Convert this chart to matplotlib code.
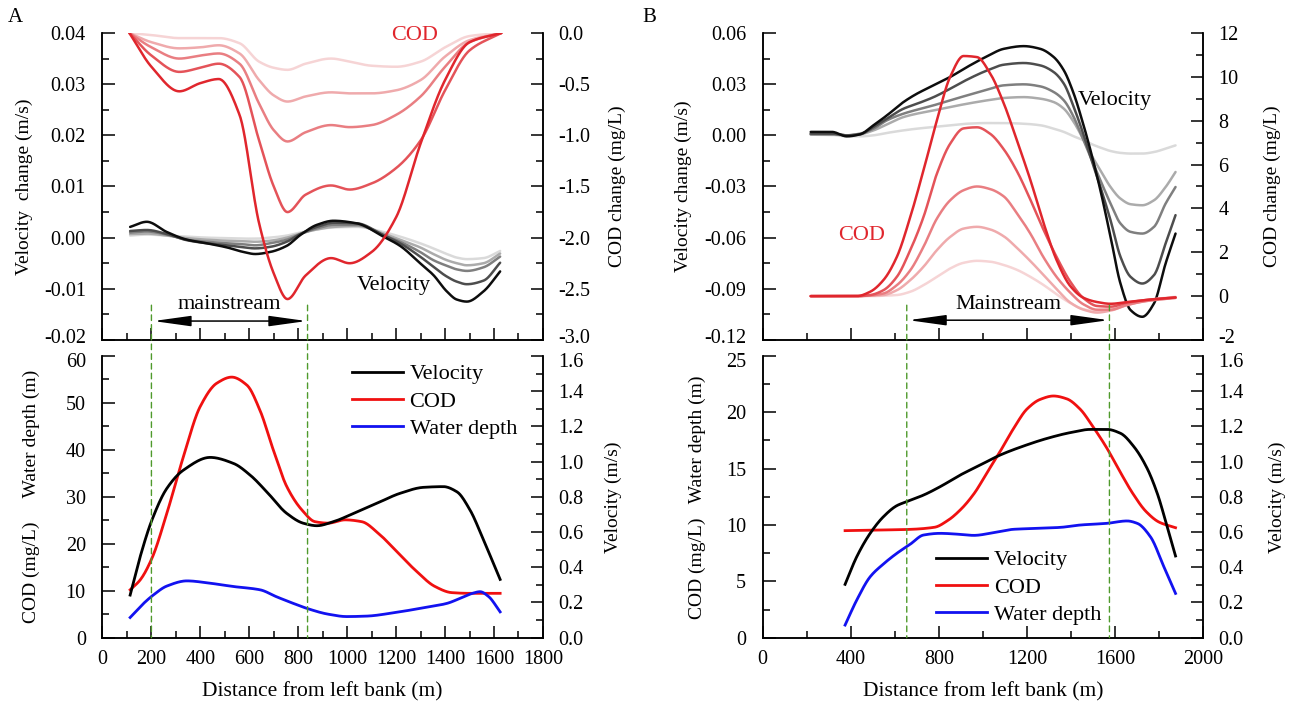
import numpy as np
import matplotlib
matplotlib.use("Agg")
import matplotlib.pyplot as plt
from matplotlib.ticker import MultipleLocator, FormatStrFormatter
from matplotlib.patches import ConnectionPatch
from matplotlib.transforms import ScaledTranslation

plt.rcParams['font.family'] = ['Liberation Serif', 'DejaVu Serif']
plt.rcParams['axes.unicode_minus'] = False

# ---------------- Panel A, top: changes ----------------
a_cod_x = [110, 200, 314, 400, 475, 560, 640, 700, 756, 830, 934, 1010, 1100, 1200, 1300, 1400, 1500, 1630]
a_cod_1 = [0, -0.33, -0.57, -0.49, -0.45, -0.80, -1.86, -2.35, -2.60, -2.37, -2.20, -2.25, -2.14, -1.80, -1.08, -0.46, -0.09, 0]
a_cod_2 = [0, -0.22, -0.38, -0.34, -0.30, -0.43, -1.05, -1.50, -1.75, -1.58, -1.49, -1.53, -1.47, -1.32, -1.05, -0.56, -0.17, 0]
a_cod_3 = [0, -0.14, -0.25, -0.22, -0.20, -0.30, -0.69, -0.95, -1.06, -0.97, -0.90, -0.92, -0.90, -0.80, -0.62, -0.33, -0.09, 0]
a_cod_4 = [0, -0.09, -0.15, -0.14, -0.12, -0.20, -0.46, -0.61, -0.67, -0.62, -0.58, -0.59, -0.59, -0.56, -0.46, -0.23, -0.07, 0]
a_cod_5 = [0, -0.02, -0.05, -0.05, -0.05, -0.10, -0.28, -0.34, -0.36, -0.30, -0.25, -0.28, -0.32, -0.33, -0.28, -0.14, -0.03, 0]

a_vel_x = [113, 181, 263, 345, 426, 508, 576, 624, 685, 753, 808, 876, 944, 1039, 1148, 1216, 1298, 1352, 1407, 1448, 1489, 1557, 1625]
a_vel_1 = [0.0021, 0.0031, 0.0011, -0.0004, -0.0011, -0.0019, -0.0028, -0.0032, -0.0028, -0.0016, 0.0005, 0.0025, 0.0033, 0.0028, 0.0002, -0.0016, -0.0050, -0.0073, -0.0105, -0.0121, -0.0125, -0.0105, -0.0066]
a_vel_2 = [0.0013, 0.0015, 0.0007, -0.0005, -0.0011, -0.0015, -0.0019, -0.0021, -0.0018, -0.0008, 0.0007, 0.0021, 0.0029, 0.0028, 0.0005, -0.0011, -0.0037, -0.0057, -0.0076, -0.0086, -0.0091, -0.0084, -0.0049]
a_vel_3 = [0.0010, 0.0012, 0.0006, -0.0004, -0.0008, -0.0011, -0.0013, -0.0015, -0.0011, -0.0004, 0.0007, 0.0018, 0.0025, 0.0025, 0.0005, -0.0008, -0.0028, -0.0044, -0.0055, -0.0062, -0.0065, -0.0058, -0.0037]
a_vel_4 = [0.0007, 0.0008, 0.0004, -0.0001, -0.0004, -0.0006, -0.0007, -0.0008, -0.0006, 0.0000, 0.0008, 0.0016, 0.0021, 0.0023, 0.0008, -0.0004, -0.0019, -0.0032, -0.0044, -0.0050, -0.0054, -0.0050, -0.0031]
a_vel_5 = [0.0004, 0.0006, 0.0004, 0.0002, 0.0000, -0.0001, -0.0002, -0.0002, 0.0000, 0.0004, 0.0010, 0.0016, 0.0020, 0.0021, 0.0011, 0.0002, -0.0011, -0.0021, -0.0032, -0.0039, -0.0042, -0.0040, -0.0026]

# ---------------- Panel A, bottom: profiles ----------------
a_velb_x = [113, 154, 202, 263, 331, 440, 535, 603, 671, 753, 821, 876, 944, 1026, 1121, 1216, 1312, 1393, 1448, 1502, 1557, 1625]
a_velb = [0.242, 0.46, 0.668, 0.848, 0.952, 1.024, 0.99, 0.924, 0.829, 0.706, 0.65, 0.636, 0.659, 0.706, 0.763, 0.82, 0.854, 0.858, 0.829, 0.725, 0.555, 0.331]
a_codb_x = [113, 154, 202, 263, 331, 399, 467, 528, 590, 643, 698, 753, 815, 869, 923, 991, 1060, 1128, 1196, 1278, 1359, 1427, 1495, 1625]
a_codb = [10.2, 12.3, 16.9, 26.5, 38.6, 49.2, 54.2, 55.5, 53.8, 48.5, 40.0, 32.2, 27.2, 24.7, 24.4, 25.1, 24.7, 22.2, 18.7, 14.4, 10.9, 9.6, 9.45, 9.45]
a_depb_x = [113, 168, 208, 263, 345, 440, 535, 644, 712, 780, 835, 923, 998, 1080, 1189, 1298, 1407, 1475, 1512, 1543, 1577, 1625]
a_depb = [4.3, 7.3, 9.1, 11.0, 12.1, 11.6, 10.9, 10.2, 8.7, 7.3, 6.25, 5.0, 4.5, 4.6, 5.3, 6.25, 7.3, 8.7, 9.45, 9.8, 8.8, 5.5]
a_mainstream = [200, 838]

# ---------------- Panel B, top: changes ----------------
b_vel_x = [218, 314, 382, 442, 503, 564, 639, 700, 776, 851, 927, 1018, 1094, 1185, 1260, 1321, 1367, 1412, 1450, 1488, 1533, 1579, 1624, 1670, 1723, 1776, 1829, 1874]
b_vel_1 = [0.002, 0.002, -0.0006, 0.0006, 0.0059, 0.0117, 0.0195, 0.0244, 0.0293, 0.0342, 0.0400, 0.0463, 0.0507, 0.0523, 0.0507, 0.0459, 0.0381, 0.0244, 0.0088, -0.0088, -0.0322, -0.0595, -0.0869, -0.1025, -0.1064, -0.0986, -0.0751, -0.0576]
b_vel_2 = [0.001, 0.001, 0.0, 0.0006, 0.0049, 0.0098, 0.0156, 0.0185, 0.0224, 0.0273, 0.0326, 0.0380, 0.0414, 0.0424, 0.0410, 0.0371, 0.0303, 0.0166, 0.0029, -0.0127, -0.0303, -0.0498, -0.0712, -0.0830, -0.0869, -0.0820, -0.0634, -0.0468]
b_vel_3 = [0.0006, 0.0006, 0.0, 0.0010, 0.0039, 0.0088, 0.0127, 0.0150, 0.0176, 0.0205, 0.0234, 0.0267, 0.0293, 0.0299, 0.0287, 0.0254, 0.0205, 0.0107, -0.0010, -0.0127, -0.0264, -0.0400, -0.0517, -0.0566, -0.0576, -0.0537, -0.0400, -0.0303]
b_vel_4 = [0.0006, 0.0006, 0.0, 0.0006, 0.0029, 0.0064, 0.0107, 0.0127, 0.0146, 0.0166, 0.0185, 0.0205, 0.0219, 0.0224, 0.0215, 0.0195, 0.0156, 0.0078, -0.0010, -0.0107, -0.0205, -0.0303, -0.0371, -0.0404, -0.0410, -0.0381, -0.0303, -0.0215]
b_vel_5 = [0.0004, 0.0002, -0.0006, -0.0006, 0.0, 0.0014, 0.0029, 0.0039, 0.0049, 0.0059, 0.0068, 0.0072, 0.0072, 0.0068, 0.0059, 0.0039, 0.0020, -0.0006, -0.0025, -0.0049, -0.0072, -0.0092, -0.0103, -0.0107, -0.0107, -0.0098, -0.0078, -0.0059]

b_cod_x = [218, 427, 488, 548, 609, 670, 730, 791, 851, 912, 973, 1033, 1094, 1154, 1215, 1276, 1336, 1397, 1457, 1518, 1579, 1654, 1745, 1874]
b_cod_1 = [0, 0, 0.2, 0.73, 1.79, 3.61, 5.74, 8.02, 10.0, 10.95, 10.9, 10.15, 8.8, 7.1, 5.3, 3.3, 1.6, 0.45, -0.08, -0.27, -0.35, -0.27, -0.17, -0.06]
b_cod_2 = [0, 0, 0.05, 0.27, 0.88, 2.1, 3.61, 5.59, 6.95, 7.65, 7.7, 7.4, 6.7, 5.7, 4.4, 3.0, 1.75, 0.65, -0.1, -0.45, -0.48, -0.3, -0.17, -0.06]
b_cod_3 = [0, 0, 0.03, 0.12, 0.5, 1.18, 2.25, 3.54, 4.37, 4.83, 5.0, 4.88, 4.55, 3.78, 2.85, 1.75, 0.85, 0.15, -0.38, -0.62, -0.62, -0.4, -0.22, -0.08]
b_cod_4 = [0, 0, 0.02, 0.05, 0.27, 0.73, 1.34, 2.1, 2.7, 3.08, 3.16, 3.04, 2.73, 2.2, 1.6, 0.95, 0.3, -0.3, -0.62, -0.75, -0.66, -0.41, -0.21, -0.08]
b_cod_5 = [0, 0, 0, 0.02, 0.05, 0.2, 0.5, 0.88, 1.26, 1.52, 1.61, 1.57, 1.42, 1.2, 0.88, 0.5, 0.07, -0.32, -0.6, -0.7, -0.58, -0.36, -0.18, -0.03]

# ---------------- Panel B, bottom: profiles ----------------
b_velb_x = [374, 427, 488, 548, 609, 654, 730, 806, 897, 988, 1079, 1185, 1291, 1397, 1488, 1563, 1624, 1685, 1745, 1791, 1836, 1874]
b_velb = [0.303, 0.46, 0.593, 0.687, 0.75, 0.773, 0.81, 0.858, 0.924, 0.981, 1.038, 1.089, 1.132, 1.165, 1.183, 1.183, 1.161, 1.085, 0.962, 0.82, 0.631, 0.464]
b_codb_x = [374, 500, 650, 780, 840, 900, 960, 1020, 1080, 1140, 1200, 1260, 1320, 1380, 1440, 1500, 1560, 1620, 1680, 1740, 1800, 1874]
b_codb = [9.5, 9.55, 9.6, 9.8, 10.4, 11.4, 12.8, 14.7, 16.6, 18.6, 20.3, 21.15, 21.45, 21.2, 20.3, 18.7, 16.9, 14.8, 12.8, 11.2, 10.25, 9.76]
b_depb_x = [374, 427, 488, 548, 609, 670, 730, 806, 897, 958, 1048, 1139, 1245, 1351, 1442, 1563, 1654, 1700, 1760, 1821, 1874]
b_depb = [1.12, 3.34, 5.41, 6.54, 7.49, 8.3, 9.11, 9.26, 9.17, 9.08, 9.32, 9.62, 9.7, 9.79, 10.0, 10.15, 10.36, 10.15, 8.96, 6.3, 3.93]
b_mainstream = [654, 1574]

reds = ['#e0262d', '#e45359', '#e97e82', '#efaaac', '#f6d4d5']
grays = ['#0d0d0d', '#4d4d4d', '#7f7f7f', '#ababab', '#dadada']


def smooth(x, y, n=500):
    """Monotone cubic (PCHIP) curve through the read points, for drawing."""
    x = np.asarray(x, float)
    y = np.asarray(y, float)
    h = np.diff(x)
    d = np.diff(y) / h
    m = np.zeros_like(y)
    m[0], m[-1] = d[0], d[-1]
    for k in range(1, len(x) - 1):
        if d[k - 1] * d[k] > 0:
            w1 = 2 * h[k] + h[k - 1]
            w2 = h[k] + 2 * h[k - 1]
            m[k] = (w1 + w2) / (w1 / d[k - 1] + w2 / d[k])
    xs = np.linspace(x[0], x[-1], n)
    i = np.clip(np.searchsorted(x, xs, side='right') - 1, 0, len(x) - 2)
    t = (xs - x[i]) / h[i]
    ys = ((2 * t**3 - 3 * t**2 + 1) * y[i] + (t**3 - 2 * t**2 + t) * h[i] * m[i]
          + (-2 * t**3 + 3 * t**2) * y[i + 1] + (t**3 - t**2) * h[i] * m[i + 1])
    return xs, ys


TICK_FS = 14.5
LAB_FS = 14
ANN_FS = 16

fig = plt.figure(figsize=(12.94, 7.02), dpi=100)


def style(ax, ax2, xmax, xmaj, xmin, show_xlabels):
    for a in (ax, ax2):
        a.spines['top'].set_visible(False)
        for s in ('left', 'right', 'bottom'):
            a.spines[s].set_linewidth(1.1)
    ax.set_xlim(0, xmax)
    ax.xaxis.set_major_locator(MultipleLocator(xmaj))
    ax.xaxis.set_minor_locator(MultipleLocator(xmin))
    ax.tick_params(axis='x', which='both', direction='in', top=False, bottom=True,
                   labelbottom=show_xlabels, labelsize=TICK_FS, pad=9, width=1.1)
    ax.tick_params(axis='x', which='major', length=9)
    ax.tick_params(axis='x', which='minor', length=5)
    ax.tick_params(axis='y', which='both', direction='in', left=True, right=False,
                   labelsize=TICK_FS, pad=12, width=1.1)
    ax.tick_params(axis='y', which='major', length=9)
    ax.tick_params(axis='y', which='minor', length=5)
    ax2.tick_params(axis='y', which='both', direction='in', right=True, left=False,
                    labelsize=TICK_FS, pad=11, width=1.1)
    ax2.tick_params(axis='y', which='major', length=9)
    ax2.tick_params(axis='y', which='minor', length=5)


def yaxis(a, lo, hi, maj, mnr, fmt):
    a.set_ylim(lo, hi)
    a.yaxis.set_major_locator(MultipleLocator(maj))
    a.yaxis.set_minor_locator(MultipleLocator(mnr))
    a.yaxis.set_major_formatter(FormatStrFormatter(fmt))


def mainstream(ax_top, ax_bot, ax_text, bounds, y_arrow, y_text, y_top, label):
    ax_text.annotate('', xy=(bounds[1] - 4, y_arrow), xytext=(bounds[0] + 8, y_arrow),
                     xycoords=ax_top.transData, textcoords=ax_top.transData,
                     arrowprops=dict(arrowstyle='<|-|>,head_length=2.3,head_width=0.32',
                                     color='black', lw=1.1, shrinkA=0, shrinkB=0,
                                     mutation_scale=10), zorder=10)
    ax_text.text((bounds[0] + bounds[1]) / 2, y_text, label, transform=ax_top.transData,
                 ha='center', va='center', fontsize=ANN_FS, zorder=10)
    for xv in bounds:
        con = ConnectionPatch(xyA=(xv, y_top), coordsA=ax_top.transData,
                              xyB=(xv, 0), coordsB=ax_bot.transData,
                              color='#4f9a2c', lw=1.0, linestyle=(0, (4, 3)))
        fig.add_artist(con)


# ================= Panel A =================
axA = fig.add_axes([0.0792, 0.5157, 0.3404, 0.4373])
axA2 = axA.twinx()
style(axA, axA2, 1800, 200, 100, False)
yaxis(axA, -0.02, 0.04, 0.01, 0.005, '%.2f')
yaxis(axA2, -3.0, 0.0, 0.5, 0.25, '%.1f')
for yv, c in zip([a_vel_5, a_vel_4, a_vel_3, a_vel_2, a_vel_1], grays[::-1]):
    axA.plot(*smooth(a_vel_x, yv), color=c, lw=1.8, solid_capstyle='round')
for yv, c in zip([a_cod_5, a_cod_4, a_cod_3, a_cod_2, a_cod_1], reds[::-1]):
    axA2.plot(*smooth(a_cod_x, yv), color=c, lw=1.8, solid_capstyle='round')
axA.set_ylabel('Velocity  change (m/s)', fontsize=LAB_FS)
axA.yaxis.set_label_coords(-0.158, 0.5)
axA2.set_ylabel('COD change (mg/L)', fontsize=LAB_FS)
axA2.yaxis.set_label_coords(1.150, 0.5)
axA2.text(1277, 0.0395, 'COD', transform=axA.transData, color='#e0262d',
          fontsize=ANN_FS, ha='center', va='center')
axA2.text(1191, -0.0093, 'Velocity', transform=axA.transData, color='black',
          fontsize=ANN_FS, ha='center', va='center', zorder=10)

axAb = fig.add_axes([0.0792, 0.0916, 0.3404, 0.4013])
axAb2 = axAb.twinx()
style(axAb, axAb2, 1800, 200, 100, True)
yaxis(axAb, 0, 60, 10, 5, '%d')
yaxis(axAb2, 0, 1.6, 0.2, 0.1, '%.1f')
hA_c, = axAb.plot(*smooth(a_codb_x, a_codb), color='#f01010', lw=2.0)
hA_d, = axAb.plot(*smooth(a_depb_x, a_depb), color='#1212f0', lw=2.0)
hA_v, = axAb2.plot(*smooth(a_velb_x, a_velb), color='black', lw=2.0)
axAb.set_ylabel('COD (mg/L)     Water depth (m)', fontsize=LAB_FS)
axAb.yaxis.set_label_coords(-0.142, 0.5)
axAb2.set_ylabel('Velocity (m/s)', fontsize=LAB_FS)
axAb2.yaxis.set_label_coords(1.141, 0.5)
axAb.set_xlabel('Distance from left bank (m)', fontsize=15.5, labelpad=9)
axAb2.legend([hA_v, hA_c, hA_d], ['Velocity', 'COD', 'Water depth'], loc='upper left',
             bbox_to_anchor=(0.566, 0.972), frameon=False, fontsize=ANN_FS,
             handlelength=2.3, handletextpad=0.3, labelspacing=0.3, borderpad=0,
             borderaxespad=0)
mainstream(axA, axAb, axA2, a_mainstream, -0.0163, -0.0131, -0.0132, 'mainstream')

# ================= Panel B =================
axB = fig.add_axes([0.5894, 0.5157, 0.3405, 0.4373])
axB2 = axB.twinx()
style(axB, axB2, 2000, 400, 200, False)
yaxis(axB, -0.12, 0.06, 0.03, 0.015, '%.2f')
yaxis(axB2, -2, 12, 2, 1, '%d')
for yv, c in zip([b_vel_5, b_vel_4, b_vel_3, b_vel_2, b_vel_1], grays[::-1]):
    axB.plot(*smooth(b_vel_x, yv), color=c, lw=1.8, solid_capstyle='round')
for yv, c in zip([b_cod_5, b_cod_4, b_cod_3, b_cod_2, b_cod_1], reds[::-1]):
    axB2.plot(*smooth(b_cod_x, yv), color=c, lw=1.8, solid_capstyle='round')
axB.set_ylabel('Velocity change (m/s)', fontsize=LAB_FS)
axB.yaxis.set_label_coords(-0.160, 0.5)
axB2.set_ylabel('COD change (mg/L)', fontsize=LAB_FS)
axB2.yaxis.set_label_coords(1.136, 0.5)
axB2.text(451, -0.0585, 'COD', transform=axB.transData, color='#e0262d',
          fontsize=ANN_FS, ha='center', va='center')
axB2.text(1597, 0.0206, 'Velocity', transform=axB.transData, color='black',
          fontsize=ANN_FS, ha='center', va='center', zorder=10)

axBb = fig.add_axes([0.5894, 0.0916, 0.3405, 0.4013])
axBb2 = axBb.twinx()
style(axBb, axBb2, 2000, 400, 200, True)
yaxis(axBb, 0, 25, 5, 2.5, '%d')
yaxis(axBb2, 0, 1.6, 0.2, 0.1, '%.1f')
hB_c, = axBb.plot(*smooth(b_codb_x, b_codb), color='#f01010', lw=2.0)
hB_d, = axBb.plot(*smooth(b_depb_x, b_depb), color='#1212f0', lw=2.0)
hB_v, = axBb2.plot(*smooth(b_velb_x, b_velb), color='black', lw=2.0)
axBb.set_ylabel('COD (mg/L)   Water depth (m)', fontsize=LAB_FS)
axBb.yaxis.set_label_coords(-0.129, 0.5)
axBb2.set_ylabel('Velocity (m/s)', fontsize=LAB_FS)
axBb2.yaxis.set_label_coords(1.149, 0.5)
axBb.set_xlabel('Distance from left bank (m)', fontsize=15.5, labelpad=9)
axBb2.legend([hB_v, hB_c, hB_d], ['Velocity', 'COD', 'Water depth'], loc='upper left',
             bbox_to_anchor=(0.394, 0.312), frameon=False, fontsize=ANN_FS,
             handlelength=2.3, handletextpad=0.3, labelspacing=0.3, borderpad=0,
             borderaxespad=0)
mainstream(axB, axBb, axB2, b_mainstream, -0.1084, -0.0993, -0.0996, 'Mainstream')

fig.text(8 / 1294, 1 - 17 / 702, 'A', fontsize=15, ha='left', va='center')
fig.text(642 / 1294, 1 - 17 / 702, 'B', fontsize=15, ha='left', va='center')

# nudge the end labels where the top and bottom panels meet, so they do not collide
fig.canvas.draw()


def nudge(ax, value, dy_px):
    off = ScaledTranslation(0, dy_px / fig.dpi, fig.dpi_scale_trans)
    for t in ax.yaxis.get_major_ticks():
        if abs(t.get_loc() - value) < 1e-6 * max(1.0, abs(value)):
            for lab in (t.label1, t.label2):
                lab.set_transform(lab.get_transform() + off)


for a, v in ((axA, -0.02), (axA2, -3.0), (axB, -0.12), (axB2, -2)):
    nudge(a, v, 4)
for a, v in ((axAb, 60), (axAb2, 1.6), (axBb, 25), (axBb2, 1.6)):
    nudge(a, v, -4)

fig.savefig('out.png', dpi=100)
